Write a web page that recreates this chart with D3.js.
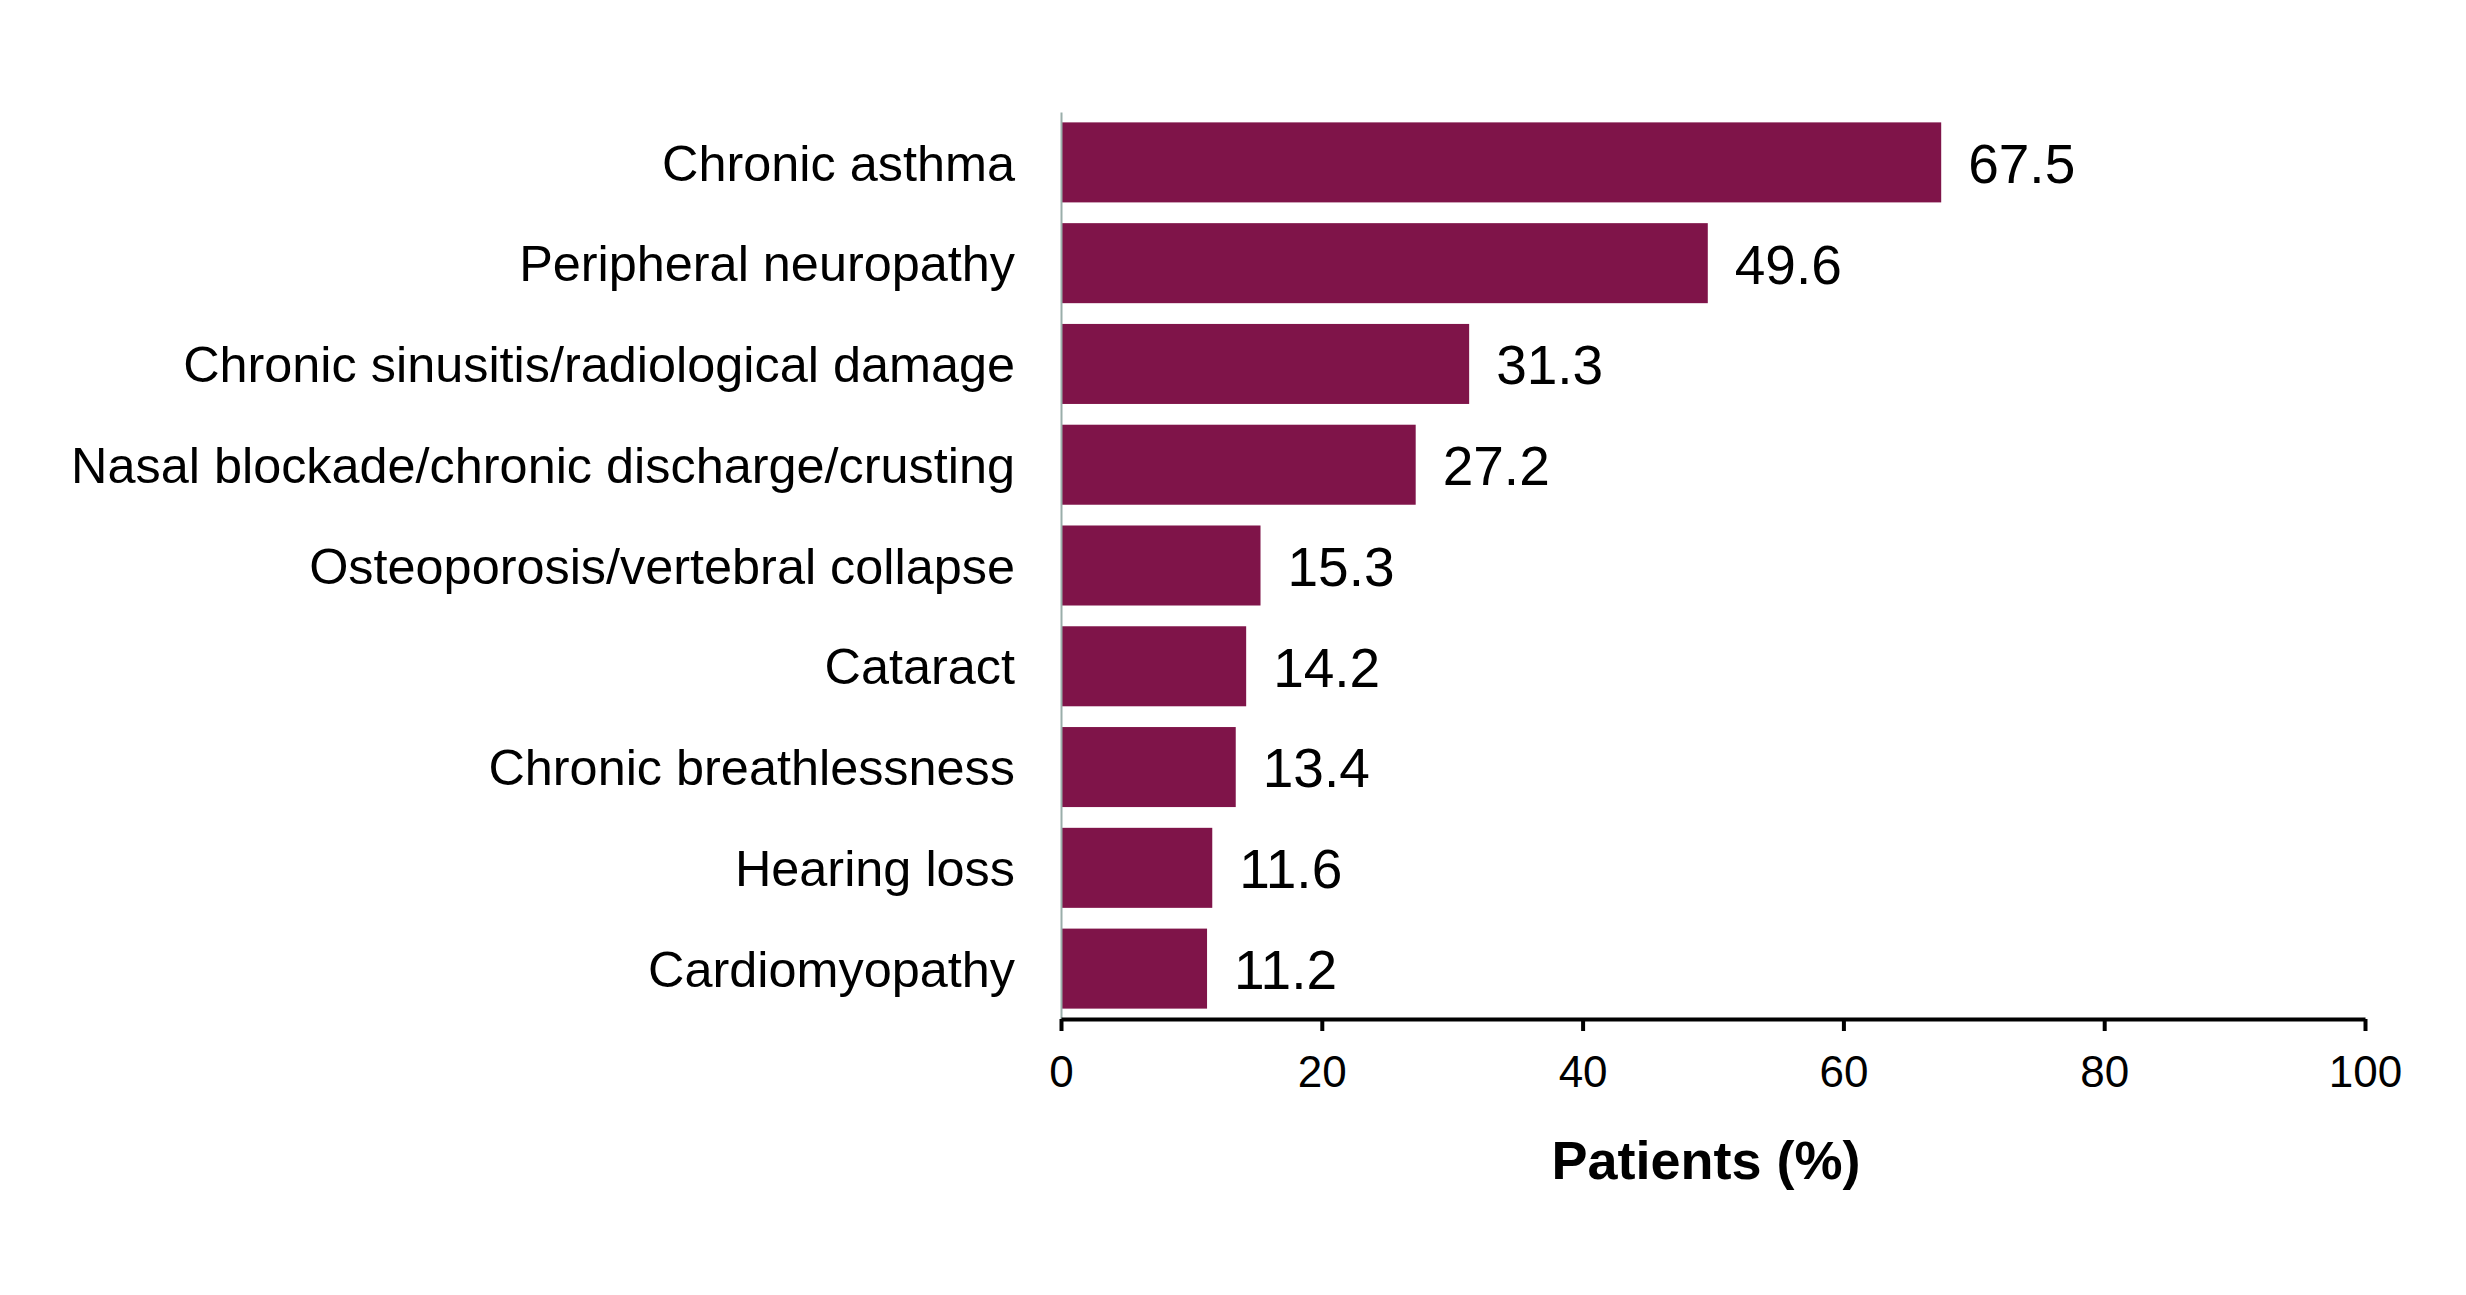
<!DOCTYPE html>
<html>
<head>
<meta charset="utf-8">
<script src="https://cdn.jsdelivr.net/npm/d3@7"></script>
<style>
  html, body { margin: 0; padding: 0; background: #fff; }
  svg { display: block; font-family: "Liberation Sans", Arial, sans-serif; }
</style>
</head>
<body>
<div id="chart"></div>
<script>
// chart data
const categories = [
  'Chronic asthma',
  'Peripheral neuropathy',
  'Chronic sinusitis/radiological damage',
  'Nasal blockade/chronic discharge/crusting',
  'Osteoporosis/vertebral collapse',
  'Cataract',
  'Chronic breathlessness',
  'Hearing loss',
  'Cardiomyopathy'
];
const values = [67.5, 49.6, 31.3, 27.2, 15.3, 14.2, 13.4, 11.6, 11.2];
const xTicks = [0, 20, 40, 60, 80, 100];
const xTitle = 'Patients (%)';

const width = 2466, height = 1295;
const margin = { top: 112, right: 101, bottom: 276, left: 1061 };
const barColor = '#7f1449';

const svg = d3.select('#chart')
  .append('svg')
  .attr('width', width)
  .attr('height', height);

// scales
const x = d3.scaleLinear()
  .domain([0, 100])
  .range([margin.left, width - margin.right]);

const y = d3.scaleBand()
  .domain(categories)
  .range([margin.top, height - margin.bottom])
  .paddingInner(0.206)
  .paddingOuter(0.103);

// bars
svg.append('g')
  .selectAll('rect')
  .data(values)
  .enter()
  .append('rect')
  .attr('x', x(0) + 1)
  .attr('y', (d, i) => y(categories[i]))
  .attr('width', d => x(d) - x(0) - 1)
  .attr('height', y.bandwidth())
  .attr('fill', barColor);

// value labels
svg.append('g')
  .selectAll('text')
  .data(values)
  .enter()
  .append('text')
  .attr('x', d => x(d) + 27)
  .attr('y', (d, i) => y(categories[i]) + y.bandwidth() / 2)
  .attr('dy', '0.37em')
  .style('font-size', '55px')
  .attr('fill', '#000')
  .text(d => d.toFixed(1));

// y axis (category labels)
const yAxis = svg.append('g')
  .attr('transform', `translate(${x(0)},0)`)
  .call(d3.axisLeft(y).tickSize(0).tickPadding(46));
yAxis.select('.domain')
  .attr('stroke', '#9aaeaa')
  .attr('stroke-width', 2);
yAxis.selectAll('text')
  .attr('dy', '0.36em')
  .style('font-size', '50.4px')
  .attr('fill', '#000');

// x axis
const xAxis = svg.append('g')
  .attr('transform', `translate(0,${height - margin.bottom})`)
  .call(d3.axisBottom(x)
    .tickValues(xTicks)
    .tickFormat(d3.format('d'))
    .tickSizeInner(12)
    .tickSizeOuter(0)
    .tickPadding(25));
xAxis.select('.domain')
  .attr('stroke', '#000')
  .attr('stroke-width', 4);
xAxis.selectAll('.tick line')
  .attr('stroke', '#000')
  .attr('stroke-width', 4);
xAxis.selectAll('text')
  .style('font-size', '44px')
  .attr('fill', '#000');

// axis title
svg.append('text')
  .attr('x', (x(0) + x(100)) / 2 - 7)
  .attr('y', 1179)
  .attr('text-anchor', 'middle')
  .style('font-size', '54px')
  .style('font-weight', 'bold')
  .text(xTitle);
</script>
</body>
</html>
